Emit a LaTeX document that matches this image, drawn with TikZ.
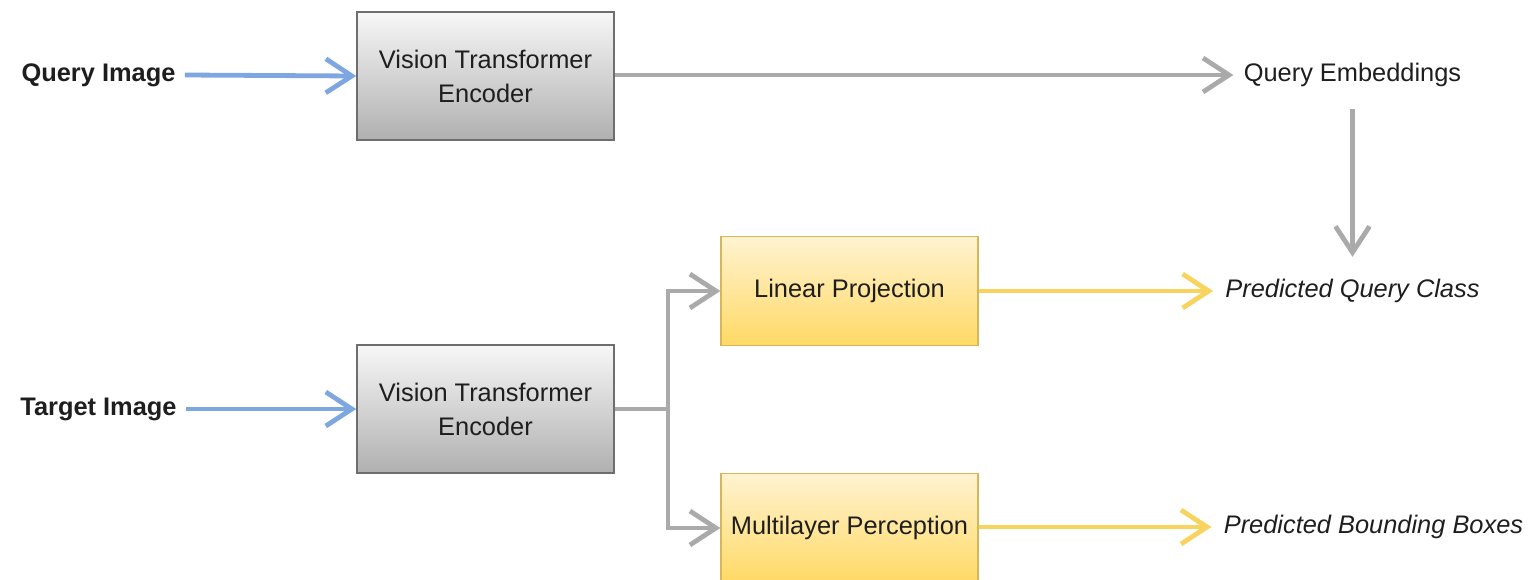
\documentclass[tikz,border=0pt]{standalone}
\usepackage{fontspec}
\setmainfont{Liberation Sans}
\usetikzlibrary{arrows.meta}
\definecolor{bluearr}{HTML}{7EA6E0}
\definecolor{grayarr}{HTML}{AAAAAA}
\definecolor{yelarr}{HTML}{F8D45E}
\definecolor{grayfillT}{HTML}{F7F7F7}
\definecolor{grayfillB}{HTML}{B0B0B0}
\definecolor{graystroke}{HTML}{6E6E6E}
\definecolor{yelfillT}{HTML}{FFF3D0}
\definecolor{yelfillB}{HTML}{FFD966}
\definecolor{yelstroke}{HTML}{D6B656}
\definecolor{txt}{HTML}{1E1E1E}
\tikzset{
  x=0.5pt, y=-0.5pt,
  every node/.style={font=\fontsize{12.7}{15}\selectfont, text=txt},
  graybox/.style={draw=graystroke, line width=0.8pt, top color=grayfillT, bottom color=grayfillB,
    minimum width=128.5pt, minimum height=64pt, align=center, inner sep=0pt},
  yelbox/.style={draw=yelstroke, line width=0.7pt, top color=yelfillT, bottom color=yelfillB,
    minimum width=128.5pt, minimum height=54.5pt, align=center, inner sep=0pt},
  lbl/.style={inner ysep=0pt},
  conn/.style={line width=2.4pt, -{Straight Barb[length=13pt,width=17pt]}},
  bconn/.style={conn, draw=bluearr},
  gconn/.style={conn, draw=grayarr},
  yconn/.style={conn, draw=yelarr},
}
\begin{document}
\begin{tikzpicture}
\useasboundingbox (0,0) rectangle (1533,579);
\begin{scope}
\clip (0,0) rectangle (1533,579);
\node[lbl, inner xsep=4.5pt, font=\fontsize{12.7}{15}\selectfont\bfseries] (qimg) at (98.5,75) {Query Image};
\node[lbl, inner xsep=4.5pt, font=\fontsize{12.7}{15}\selectfont\bfseries] (timg) at (98.5,409) {Target Image};
\node[graybox] (vte1) at (485.5,76) {Vision Transformer\\[2pt]Encoder};
\node[graybox] (vte2) at (485.5,409) {Vision Transformer\\[2pt]Encoder};
\node[lbl, inner xsep=5pt] (qemb) at (1352.5,75) {Query Embeddings};
\node[yelbox] (lp) at (849.5,291) {Linear Projection};
\node[yelbox] (mlp) at (849.5,528) {Multilayer Perception};
\node[lbl, inner xsep=6pt, font=\fontsize{12.7}{15}\selectfont\itshape] (pqc) at (1352.5,291) {Predicted Query Class};
\node[lbl, inner xsep=6pt, font=\fontsize{12.7}{15}\selectfont\itshape] (pbb) at (1373.5,527) {Predicted Bounding Boxes};
\coordinate (br) at (668,409);

\draw[bconn] (qimg.east) -- (vte1.west);
\draw[bconn] (timg.east) -- (vte2.west);
\draw[gconn] (vte1.east |- qemb.west) -- (qemb.west);
\draw[gconn, shorten <=11pt, shorten >=11pt] (qemb.south) -- (qemb.south |- pqc.north);
\draw[line width=2.4pt, draw=grayarr] (vte2.east) -- (br);
\draw[gconn] (br) |- (lp.west);
\draw[gconn] (br) |- (mlp.west);
\draw[yconn] (lp.east) -- (pqc.west);
\draw[yconn] (mlp.east |- pbb.west) -- (pbb.west);
\end{scope}
\end{tikzpicture}
\end{document}
